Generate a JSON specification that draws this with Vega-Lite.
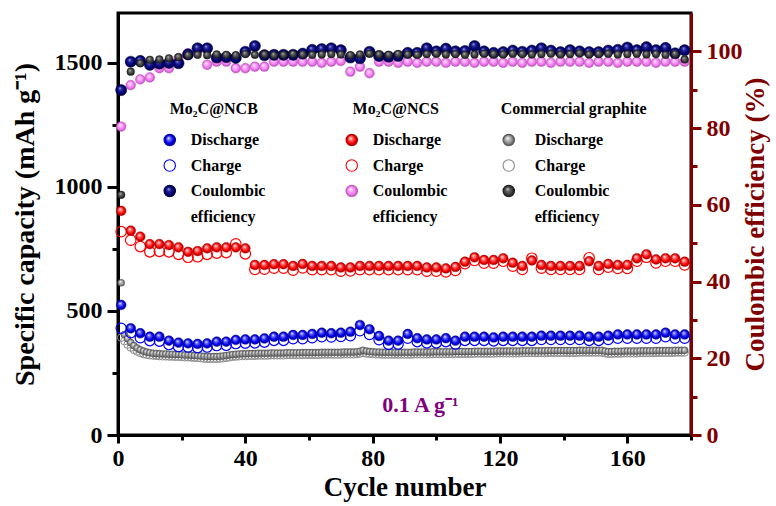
{
"$schema": "https://vega.github.io/schema/vega-lite/v6.json",
"width": 573, "height": 422,
"autosize": {"type": "none"},
"padding": {"left": 118, "top": 13, "right": 85, "bottom": 71},
"background": "white",
"config": {
  "font": "Liberation Serif",
  "view": {"stroke": "black", "strokeWidth": 3},
  "axis": {"labelFont": "Liberation Serif", "labelFontWeight": "bold", "labelFontSize": 24, "labelColor": "black",
           "titleFont": "Liberation Serif", "titleFontWeight": "bold", "titleFontSize": 28, "titleColor": "black",
           "domainColor": "black", "domainWidth": 3, "tickColor": "black", "tickWidth": 3, "grid": false},
  "legend": {"labelFont": "Liberation Serif", "labelFontWeight": "bold", "labelFontSize": 16, "labelColor": "black",
             "titleFont": "Liberation Serif", "titleFontWeight": "bold", "titleFontSize": 16, "titleColor": "black",
             "symbolType": "circle", "symbolSize": 130, "symbolStrokeWidth": 1.1, "rowPadding": 9.5, "titlePadding": 15, "padding": 0,
             "direction": "vertical", "labelLimit": 300, "titleLimit": 300}
},
"datasets": {
  "ncb_dis": [{"c":1,"v":524},{"c":4,"v":430},{"c":7,"v":410},{"c":10,"v":396},{"c":13,"v":396},{"c":16,"v":380},{"c":19,"v":372},{"c":22,"v":369},{"c":25,"v":367},{"c":28,"v":369},{"c":31,"v":376},{"c":34,"v":376},{"c":37,"v":383},{"c":40,"v":385},{"c":43,"v":385},{"c":46,"v":389},{"c":49,"v":396},{"c":52,"v":396},{"c":55,"v":403},{"c":58,"v":403},{"c":61,"v":407},{"c":64,"v":412},{"c":67,"v":410},{"c":70,"v":412},{"c":73,"v":416},{"c":76,"v":443},{"c":79,"v":426},{"c":82,"v":399},{"c":85,"v":380},{"c":88,"v":380},{"c":91,"v":407},{"c":94,"v":390},{"c":97,"v":385},{"c":100,"v":385},{"c":103,"v":390},{"c":106,"v":380},{"c":109,"v":396},{"c":112,"v":396},{"c":115,"v":396},{"c":118,"v":393},{"c":121,"v":396},{"c":124,"v":396},{"c":127,"v":396},{"c":130,"v":396},{"c":133,"v":400},{"c":136,"v":400},{"c":139,"v":400},{"c":142,"v":400},{"c":145,"v":400},{"c":148,"v":396},{"c":151,"v":396},{"c":154,"v":400},{"c":157,"v":405},{"c":160,"v":405},{"c":163,"v":405},{"c":166,"v":405},{"c":169,"v":405},{"c":172,"v":412},{"c":175,"v":405},{"c":178,"v":405}],
  "ncb_ch": [{"c":1,"v":430},{"c":4,"v":412},{"c":7,"v":392},{"c":10,"v":380},{"c":13,"v":378},{"c":16,"v":364},{"c":19,"v":356},{"c":22,"v":354},{"c":25,"v":352},{"c":28,"v":354},{"c":31,"v":360},{"c":34,"v":361},{"c":37,"v":368},{"c":40,"v":370},{"c":43,"v":371},{"c":46,"v":374},{"c":49,"v":381},{"c":52,"v":381},{"c":55,"v":388},{"c":58,"v":388},{"c":61,"v":392},{"c":64,"v":396},{"c":67,"v":395},{"c":70,"v":397},{"c":73,"v":400},{"c":76,"v":420},{"c":79,"v":405},{"c":82,"v":384},{"c":85,"v":365},{"c":88,"v":366},{"c":91,"v":390},{"c":94,"v":376},{"c":97,"v":371},{"c":100,"v":371},{"c":103,"v":376},{"c":106,"v":366},{"c":109,"v":381},{"c":112,"v":381},{"c":115,"v":381},{"c":118,"v":379},{"c":121,"v":381},{"c":124,"v":381},{"c":127,"v":381},{"c":130,"v":381},{"c":133,"v":385},{"c":136,"v":385},{"c":139,"v":385},{"c":142,"v":385},{"c":145,"v":385},{"c":148,"v":381},{"c":151,"v":381},{"c":154,"v":385},{"c":157,"v":390},{"c":160,"v":390},{"c":163,"v":390},{"c":166,"v":390},{"c":169,"v":390},{"c":172,"v":396},{"c":175,"v":390},{"c":178,"v":390}],
  "ncb_ce": [{"c":1,"v":89.9},{"c":4,"v":97.3},{"c":7,"v":97.5},{"c":10,"v":96.5},{"c":13,"v":96.8},{"c":16,"v":97.0},{"c":19,"v":96.9},{"c":22,"v":99.2},{"c":25,"v":100.8},{"c":28,"v":100.8},{"c":31,"v":98.4},{"c":34,"v":98.5},{"c":37,"v":98.3},{"c":40,"v":99.9},{"c":43,"v":101.4},{"c":46,"v":99.0},{"c":49,"v":99.1},{"c":52,"v":99.1},{"c":55,"v":99.1},{"c":58,"v":99.4},{"c":61,"v":100.4},{"c":64,"v":100.6},{"c":67,"v":100.8},{"c":70,"v":100.3},{"c":73,"v":98.4},{"c":76,"v":98.2},{"c":79,"v":99.9},{"c":82,"v":98.8},{"c":85,"v":98.6},{"c":88,"v":98.8},{"c":91,"v":99.6},{"c":94,"v":99.6},{"c":97,"v":100.8},{"c":100,"v":100.0},{"c":103,"v":100.7},{"c":106,"v":100.0},{"c":109,"v":100.1},{"c":112,"v":101.4},{"c":115,"v":100.0},{"c":118,"v":99.6},{"c":121,"v":99.8},{"c":124,"v":100.2},{"c":127,"v":99.9},{"c":130,"v":100.2},{"c":133,"v":100.8},{"c":136,"v":100.2},{"c":139,"v":99.8},{"c":142,"v":100.3},{"c":145,"v":100.0},{"c":148,"v":99.8},{"c":151,"v":99.8},{"c":154,"v":100.2},{"c":157,"v":100.4},{"c":160,"v":101.0},{"c":163,"v":100.3},{"c":166,"v":101.1},{"c":169,"v":100.3},{"c":172,"v":100.9},{"c":175,"v":99.5},{"c":178,"v":100.3}],
  "ncs_dis": [{"c":1,"v":903},{"c":4,"v":823},{"c":7,"v":799},{"c":10,"v":769},{"c":13,"v":769},{"c":16,"v":765},{"c":19,"v":756},{"c":22,"v":738},{"c":25,"v":741},{"c":28,"v":752},{"c":31,"v":756},{"c":34,"v":756},{"c":37,"v":756},{"c":40,"v":752},{"c":43,"v":685},{"c":46,"v":685},{"c":49,"v":688},{"c":52,"v":688},{"c":55,"v":681},{"c":58,"v":689},{"c":61,"v":681},{"c":64,"v":681},{"c":67,"v":681},{"c":70,"v":675},{"c":73,"v":675},{"c":76,"v":681},{"c":79,"v":681},{"c":82,"v":681},{"c":85,"v":681},{"c":88,"v":681},{"c":91,"v":681},{"c":94,"v":681},{"c":97,"v":675},{"c":100,"v":675},{"c":103,"v":671},{"c":106,"v":677},{"c":109,"v":698},{"c":112,"v":716},{"c":115,"v":705},{"c":118,"v":705},{"c":121,"v":712},{"c":124,"v":694},{"c":127,"v":681},{"c":130,"v":703},{"c":133,"v":685},{"c":136,"v":681},{"c":139,"v":681},{"c":142,"v":681},{"c":145,"v":681},{"c":148,"v":700},{"c":151,"v":681},{"c":154,"v":689},{"c":157,"v":685},{"c":160,"v":685},{"c":163,"v":712},{"c":166,"v":728},{"c":169,"v":707},{"c":172,"v":712},{"c":175,"v":712},{"c":178,"v":698}],
  "ncs_ch": [{"c":1,"v":819},{"c":4,"v":785},{"c":7,"v":759},{"c":10,"v":738},{"c":13,"v":740},{"c":16,"v":738},{"c":19,"v":728},{"c":22,"v":716},{"c":25,"v":718},{"c":28,"v":728},{"c":31,"v":733},{"c":34,"v":735},{"c":37,"v":770},{"c":40,"v":730},{"c":43,"v":667},{"c":46,"v":668},{"c":49,"v":672},{"c":52,"v":672},{"c":55,"v":664},{"c":58,"v":673},{"c":61,"v":666},{"c":64,"v":666},{"c":67,"v":666},{"c":70,"v":660},{"c":73,"v":661},{"c":76,"v":666},{"c":79,"v":666},{"c":82,"v":666},{"c":85,"v":666},{"c":88,"v":666},{"c":91,"v":666},{"c":94,"v":666},{"c":97,"v":660},{"c":100,"v":660},{"c":103,"v":657},{"c":106,"v":663},{"c":109,"v":690},{"c":112,"v":703},{"c":115,"v":692},{"c":118,"v":692},{"c":121,"v":700},{"c":124,"v":680},{"c":127,"v":667},{"c":130,"v":712},{"c":133,"v":672},{"c":136,"v":667},{"c":139,"v":667},{"c":142,"v":667},{"c":145,"v":667},{"c":148,"v":714},{"c":151,"v":667},{"c":154,"v":676},{"c":157,"v":671},{"c":160,"v":671},{"c":163,"v":700},{"c":166,"v":716},{"c":169,"v":693},{"c":172,"v":700},{"c":175,"v":700},{"c":178,"v":685}],
  "ncs_ce": [{"c":1,"v":80.4},{"c":4,"v":91.2},{"c":7,"v":92.7},{"c":10,"v":93.2},{"c":13,"v":95.6},{"c":16,"v":95.6},{"c":19,"v":98.2},{"c":22,"v":99.5},{"c":25,"v":100.0},{"c":28,"v":96.5},{"c":31,"v":97.3},{"c":34,"v":97.3},{"c":37,"v":95.6},{"c":40,"v":95.6},{"c":43,"v":96.0},{"c":46,"v":96.0},{"c":49,"v":97.3},{"c":52,"v":97.3},{"c":55,"v":97.3},{"c":58,"v":97.3},{"c":61,"v":97.3},{"c":64,"v":97.0},{"c":67,"v":97.3},{"c":70,"v":97.5},{"c":73,"v":94.7},{"c":76,"v":96.0},{"c":79,"v":94.3},{"c":82,"v":97.3},{"c":85,"v":97.3},{"c":88,"v":97.0},{"c":91,"v":97.3},{"c":94,"v":97.0},{"c":97,"v":97.3},{"c":100,"v":97.3},{"c":103,"v":97.0},{"c":106,"v":97.3},{"c":109,"v":97.3},{"c":112,"v":97.0},{"c":115,"v":97.3},{"c":118,"v":97.3},{"c":121,"v":97.0},{"c":124,"v":97.3},{"c":127,"v":97.0},{"c":130,"v":97.3},{"c":133,"v":97.3},{"c":136,"v":97.0},{"c":139,"v":97.3},{"c":142,"v":97.3},{"c":145,"v":97.3},{"c":148,"v":97.0},{"c":151,"v":97.3},{"c":154,"v":97.3},{"c":157,"v":97.0},{"c":160,"v":97.3},{"c":163,"v":97.3},{"c":166,"v":97.3},{"c":169,"v":97.0},{"c":172,"v":97.3},{"c":175,"v":97.3},{"c":178,"v":97.3}],
  "gr_ce": [{"c":1,"v":62.6},{"c":4,"v":94.7},{"c":7,"v":96.9},{"c":10,"v":97.8},{"c":13,"v":97.9},{"c":16,"v":98.2},{"c":19,"v":98.5},{"c":22,"v":99.0},{"c":25,"v":99.1},{"c":28,"v":99.0},{"c":31,"v":99.2},{"c":34,"v":99.1},{"c":37,"v":99.0},{"c":40,"v":99.3},{"c":43,"v":99.1},{"c":46,"v":99.2},{"c":49,"v":99.0},{"c":52,"v":99.1},{"c":55,"v":99.3},{"c":58,"v":99.2},{"c":61,"v":99.1},{"c":64,"v":99.2},{"c":67,"v":99.3},{"c":70,"v":99.2},{"c":73,"v":99.0},{"c":76,"v":99.2},{"c":79,"v":99.4},{"c":82,"v":99.2},{"c":85,"v":99.1},{"c":88,"v":99.3},{"c":91,"v":99.2},{"c":94,"v":99.1},{"c":97,"v":99.3},{"c":100,"v":99.4},{"c":103,"v":99.2},{"c":106,"v":99.3},{"c":109,"v":99.1},{"c":112,"v":99.2},{"c":115,"v":99.4},{"c":118,"v":99.3},{"c":121,"v":99.2},{"c":124,"v":99.4},{"c":127,"v":99.3},{"c":130,"v":99.2},{"c":133,"v":99.3},{"c":136,"v":99.4},{"c":139,"v":99.2},{"c":142,"v":99.3},{"c":145,"v":99.5},{"c":148,"v":99.2},{"c":151,"v":99.3},{"c":154,"v":99.4},{"c":157,"v":99.2},{"c":160,"v":99.3},{"c":163,"v":99.4},{"c":166,"v":99.2},{"c":169,"v":99.3},{"c":172,"v":99.1},{"c":175,"v":99.3},{"c":178,"v":97.9}],
  "gr_dis": [{"c":1,"v":613},{"c":2,"v":405},{"c":3,"v":388},{"c":4,"v":372},{"c":5,"v":360},{"c":6,"v":350},{"c":7,"v":343},{"c":8,"v":338},{"c":9,"v":334},{"c":10,"v":331},{"c":11,"v":329},{"c":12,"v":328},{"c":13,"v":327},{"c":14,"v":326},{"c":15,"v":326},{"c":16,"v":325},{"c":17,"v":325},{"c":18,"v":324},{"c":19,"v":324},{"c":20,"v":323},{"c":21,"v":322},{"c":22,"v":322},{"c":23,"v":321},{"c":24,"v":320},{"c":25,"v":319},{"c":26,"v":318},{"c":27,"v":317},{"c":28,"v":316},{"c":29,"v":316},{"c":30,"v":316},{"c":31,"v":316},{"c":32,"v":317},{"c":33,"v":318},{"c":34,"v":320},{"c":35,"v":322},{"c":36,"v":324},{"c":37,"v":325},{"c":38,"v":326},{"c":39,"v":327},{"c":40,"v":327},{"c":41,"v":328},{"c":42,"v":328},{"c":43,"v":328},{"c":44,"v":329},{"c":45,"v":329},{"c":46,"v":329},{"c":47,"v":329},{"c":48,"v":330},{"c":49,"v":330},{"c":50,"v":330},{"c":51,"v":330},{"c":52,"v":330},{"c":53,"v":331},{"c":54,"v":331},{"c":55,"v":331},{"c":56,"v":331},{"c":57,"v":331},{"c":58,"v":332},{"c":59,"v":332},{"c":60,"v":332},{"c":61,"v":332},{"c":62,"v":332},{"c":63,"v":332},{"c":64,"v":333},{"c":65,"v":333},{"c":66,"v":333},{"c":67,"v":333},{"c":68,"v":333},{"c":69,"v":333},{"c":70,"v":333},{"c":71,"v":334},{"c":72,"v":334},{"c":73,"v":334},{"c":74,"v":334},{"c":75,"v":335},{"c":76,"v":337},{"c":77,"v":341},{"c":78,"v":338},{"c":79,"v":336},{"c":80,"v":335},{"c":81,"v":334},{"c":82,"v":334},{"c":83,"v":333},{"c":84,"v":333},{"c":85,"v":333},{"c":86,"v":333},{"c":87,"v":333},{"c":88,"v":333},{"c":89,"v":333},{"c":90,"v":333},{"c":91,"v":333},{"c":92,"v":333},{"c":93,"v":334},{"c":94,"v":334},{"c":95,"v":334},{"c":96,"v":334},{"c":97,"v":334},{"c":98,"v":334},{"c":99,"v":335},{"c":100,"v":335},{"c":101,"v":335},{"c":102,"v":335},{"c":103,"v":335},{"c":104,"v":335},{"c":105,"v":335},{"c":106,"v":336},{"c":107,"v":336},{"c":108,"v":336},{"c":109,"v":336},{"c":110,"v":336},{"c":111,"v":336},{"c":112,"v":337},{"c":113,"v":337},{"c":114,"v":337},{"c":115,"v":337},{"c":116,"v":337},{"c":117,"v":337},{"c":118,"v":337},{"c":119,"v":338},{"c":120,"v":338},{"c":121,"v":338},{"c":122,"v":338},{"c":123,"v":338},{"c":124,"v":338},{"c":125,"v":338},{"c":126,"v":338},{"c":127,"v":339},{"c":128,"v":339},{"c":129,"v":339},{"c":130,"v":339},{"c":131,"v":339},{"c":132,"v":339},{"c":133,"v":339},{"c":134,"v":339},{"c":135,"v":340},{"c":136,"v":340},{"c":137,"v":340},{"c":138,"v":340},{"c":139,"v":340},{"c":140,"v":340},{"c":141,"v":340},{"c":142,"v":340},{"c":143,"v":340},{"c":144,"v":340},{"c":145,"v":341},{"c":146,"v":341},{"c":147,"v":341},{"c":148,"v":341},{"c":149,"v":341},{"c":150,"v":341},{"c":151,"v":341},{"c":152,"v":341},{"c":153,"v":338},{"c":154,"v":336},{"c":155,"v":336},{"c":156,"v":337},{"c":157,"v":337},{"c":158,"v":337},{"c":159,"v":338},{"c":160,"v":338},{"c":161,"v":338},{"c":162,"v":338},{"c":163,"v":338},{"c":164,"v":339},{"c":165,"v":339},{"c":166,"v":339},{"c":167,"v":339},{"c":168,"v":339},{"c":169,"v":340},{"c":170,"v":340},{"c":171,"v":340},{"c":172,"v":340},{"c":173,"v":340},{"c":174,"v":340},{"c":175,"v":341},{"c":176,"v":341},{"c":177,"v":341},{"c":178,"v":341}],
  "gr_ch": [{"c":1,"v":392},{"c":2,"v":378},{"c":3,"v":364},{"c":4,"v":352},{"c":5,"v":343},{"c":6,"v":336},{"c":7,"v":330},{"c":8,"v":326},{"c":9,"v":323},{"c":10,"v":321},{"c":11,"v":320},{"c":12,"v":319},{"c":13,"v":318},{"c":14,"v":317},{"c":15,"v":317},{"c":16,"v":316},{"c":17,"v":316},{"c":18,"v":315},{"c":19,"v":315},{"c":20,"v":314},{"c":21,"v":313},{"c":22,"v":313},{"c":23,"v":312},{"c":24,"v":311},{"c":25,"v":310},{"c":26,"v":309},{"c":27,"v":308},{"c":28,"v":307},{"c":29,"v":307},{"c":30,"v":307},{"c":31,"v":307},{"c":32,"v":308},{"c":33,"v":309},{"c":34,"v":311},{"c":35,"v":313},{"c":36,"v":315},{"c":37,"v":316},{"c":38,"v":317},{"c":39,"v":318},{"c":40,"v":318},{"c":41,"v":319},{"c":42,"v":319},{"c":43,"v":319},{"c":44,"v":320},{"c":45,"v":320},{"c":46,"v":320},{"c":47,"v":320},{"c":48,"v":321},{"c":49,"v":321},{"c":50,"v":321},{"c":51,"v":321},{"c":52,"v":321},{"c":53,"v":322},{"c":54,"v":322},{"c":55,"v":322},{"c":56,"v":322},{"c":57,"v":322},{"c":58,"v":323},{"c":59,"v":323},{"c":60,"v":323},{"c":61,"v":323},{"c":62,"v":323},{"c":63,"v":323},{"c":64,"v":324},{"c":65,"v":324},{"c":66,"v":324},{"c":67,"v":324},{"c":68,"v":324},{"c":69,"v":324},{"c":70,"v":324},{"c":71,"v":325},{"c":72,"v":325},{"c":73,"v":325},{"c":74,"v":325},{"c":75,"v":326},{"c":76,"v":328},{"c":77,"v":330},{"c":78,"v":328},{"c":79,"v":327},{"c":80,"v":326},{"c":81,"v":325},{"c":82,"v":325},{"c":83,"v":324},{"c":84,"v":324},{"c":85,"v":324},{"c":86,"v":324},{"c":87,"v":324},{"c":88,"v":324},{"c":89,"v":324},{"c":90,"v":324},{"c":91,"v":324},{"c":92,"v":324},{"c":93,"v":325},{"c":94,"v":325},{"c":95,"v":325},{"c":96,"v":325},{"c":97,"v":325},{"c":98,"v":325},{"c":99,"v":326},{"c":100,"v":326},{"c":101,"v":326},{"c":102,"v":326},{"c":103,"v":326},{"c":104,"v":326},{"c":105,"v":326},{"c":106,"v":327},{"c":107,"v":327},{"c":108,"v":327},{"c":109,"v":327},{"c":110,"v":327},{"c":111,"v":327},{"c":112,"v":328},{"c":113,"v":328},{"c":114,"v":328},{"c":115,"v":328},{"c":116,"v":328},{"c":117,"v":328},{"c":118,"v":328},{"c":119,"v":329},{"c":120,"v":329},{"c":121,"v":329},{"c":122,"v":329},{"c":123,"v":329},{"c":124,"v":329},{"c":125,"v":329},{"c":126,"v":329},{"c":127,"v":330},{"c":128,"v":330},{"c":129,"v":330},{"c":130,"v":330},{"c":131,"v":330},{"c":132,"v":330},{"c":133,"v":330},{"c":134,"v":330},{"c":135,"v":331},{"c":136,"v":331},{"c":137,"v":331},{"c":138,"v":331},{"c":139,"v":331},{"c":140,"v":331},{"c":141,"v":331},{"c":142,"v":331},{"c":143,"v":331},{"c":144,"v":331},{"c":145,"v":332},{"c":146,"v":332},{"c":147,"v":332},{"c":148,"v":332},{"c":149,"v":332},{"c":150,"v":332},{"c":151,"v":332},{"c":152,"v":332},{"c":153,"v":329},{"c":154,"v":327},{"c":155,"v":327},{"c":156,"v":328},{"c":157,"v":328},{"c":158,"v":328},{"c":159,"v":329},{"c":160,"v":329},{"c":161,"v":329},{"c":162,"v":329},{"c":163,"v":329},{"c":164,"v":330},{"c":165,"v":330},{"c":166,"v":330},{"c":167,"v":330},{"c":168,"v":330},{"c":169,"v":331},{"c":170,"v":331},{"c":171,"v":331},{"c":172,"v":331},{"c":173,"v":331},{"c":174,"v":331},{"c":175,"v":332},{"c":176,"v":332},{"c":177,"v":332},{"c":178,"v":332}]
},
"layer": [
  {
    "layer": [
      {
        "data": {"name": "ncs_ch"},
        "mark": {"type": "point", "shape": "circle", "size": 110, "opacity": 1, "strokeWidth": 1.2},
        "encoding": {
          "x": {"field": "c", "type": "quantitative", "scale": {"domain": [0, 180], "nice": false, "zero": false},
                "axis": {"orient": "bottom", "values": [0, 40, 80, 120, 160], "format": "d", "title": "Cycle number", "titleFontSize": 27, "tickSize": 8, "labelPadding": 3, "titlePadding": 4, "labelOverlap": false, "labelFlush": false}},
          "y": {"field": "v", "type": "quantitative", "scale": {"domain": [0, 1700], "nice": false},
                "axis": {"orient": "left", "values": [0, 500, 1000, 1500], "format": "d",
                         "title": "Specific capacity (mAh g⁻¹)", "tickSize": 11, "labelPadding": 5, "titlePadding": 15, "labelOverlap": false}},
          "fill": {"datum": "Charge",
                   "scale": {"domain": ["Discharge", "Charge", "Coulombic", "efficiency"],
                             "range": [
                               {"signal": "{gradient:'radial',x1:0.38,y1:0.32,r1:0,x2:0.5,y2:0.5,r2:0.5,stops:[{offset:0,color:'#ffffff'},{offset:0.3,color:'#ff7a7a'},{offset:0.7,color:'#ff0000'},{offset:1,color:'#a00000'}]}"},
                               "transparent",
                               {"signal": "{gradient:'radial',x1:0.38,y1:0.32,r1:0,x2:0.5,y2:0.5,r2:0.5,stops:[{offset:0,color:'#ffffff'},{offset:0.3,color:'#ffb4ff'},{offset:0.7,color:'#f07af0'},{offset:1,color:'#b850b8'}]}"},
                               "transparent"]},
                   "legend": {"orient": "none", "legendX": 225.75, "legendY": 88, "title": "Mo₂C@NCS", "labelOffset": 13, "titleAnchor": "middle"}},
          "stroke": {"datum": "Charge",
                     "scale": {"domain": ["Discharge", "Charge", "Coulombic", "efficiency"],
                               "range": ["#b00000", "#ff0000", "#c060c0", "transparent"]}}
        }
      },
      {
        "data": {"name": "ncs_dis"},
        "mark": {"type": "point", "shape": "circle", "size": 95, "opacity": 1, "strokeWidth": 0.5},
        "encoding": {
          "x": {"field": "c", "type": "quantitative", "scale": {"domain": [0, 180], "nice": false, "zero": false},
                "axis": {"orient": "bottom", "values": [0, 40, 80, 120, 160], "format": "d", "title": "Cycle number", "titleFontSize": 27, "tickSize": 8, "labelPadding": 3, "titlePadding": 4, "labelOverlap": false, "labelFlush": false}},
          "y": {"field": "v", "type": "quantitative", "scale": {"domain": [0, 1700], "nice": false},
                "axis": {"orient": "left", "values": [250, 750, 1250], "labels": false, "title": null, "domain": false, "tickSize": 6}},
          "fill": {"datum": "Discharge", "scale": {"domain": ["Discharge", "Charge", "Coulombic", "efficiency"]}},
          "stroke": {"datum": "Discharge", "scale": {"domain": ["Discharge", "Charge", "Coulombic", "efficiency"]}}
        }
      },
      {
        "data": {"name": "ncs_ce"},
        "mark": {"type": "point", "shape": "circle", "size": 95, "opacity": 1, "strokeWidth": 0.5},
        "encoding": {
          "x": {"field": "c", "type": "quantitative", "scale": {"domain": [0, 180], "nice": false, "zero": false},
                "axis": {"orient": "bottom", "values": [0, 40, 80, 120, 160], "format": "d", "title": "Cycle number", "titleFontSize": 27, "tickSize": 8, "labelPadding": 3, "titlePadding": 4, "labelOverlap": false, "labelFlush": false}},
          "y": {"field": "v", "type": "quantitative", "scale": {"domain": [0, 110], "nice": false},
                "axis": {"orient": "right", "values": [0, 20, 40, 60, 80, 100], "format": "d",
                         "title": "Coulombic efficiency (%)", "titleAngle": 270, "titleBaseline": "top", "titleFontSize": 27,
                         "domainColor": "#800000", "tickColor": "#800000", "labelColor": "#800000", "titleColor": "#800000",
                         "tickSize": 10, "labelPadding": 5, "titlePadding": 0, "labelOverlap": false}},
          "fill": {"datum": "Coulombic", "scale": {"domain": ["Discharge", "Charge", "Coulombic", "efficiency"]}},
          "stroke": {"datum": "Coulombic", "scale": {"domain": ["Discharge", "Charge", "Coulombic", "efficiency"]}}
        }
      }
    ],
    "resolve": {"scale": {"y": "independent"}}
  },
  {
    "layer": [
      {
        "data": {"name": "gr_ch"},
        "mark": {"type": "point", "shape": "circle", "size": 56, "opacity": 1, "strokeWidth": 1},
        "encoding": {
          "x": {"field": "c", "type": "quantitative", "scale": {"domain": [0, 180], "nice": false, "zero": false}, "axis": null},
          "y": {"field": "v", "type": "quantitative", "scale": {"domain": [0, 1700], "nice": false}, "axis": null},
          "fill": {"datum": "Charge",
                   "scale": {"domain": ["Discharge", "Charge", "Coulombic", "efficiency"],
                             "range": [
                               {"signal": "{gradient:'radial',x1:0.38,y1:0.32,r1:0,x2:0.5,y2:0.5,r2:0.5,stops:[{offset:0,color:'#ffffff'},{offset:0.3,color:'#c4c4c4'},{offset:0.7,color:'#8c8c8c'},{offset:1,color:'#4a4a4a'}]}"},
                               "transparent",
                               {"signal": "{gradient:'radial',x1:0.38,y1:0.32,r1:0,x2:0.5,y2:0.5,r2:0.5,stops:[{offset:0,color:'#d8d8d8'},{offset:0.3,color:'#6a6a6a'},{offset:0.7,color:'#3c3c3c'},{offset:1,color:'#1a1a1a'}]}"},
                               "transparent"]},
                   "legend": {"orient": "none", "legendX": 382.75, "legendY": 88, "title": "Commercial graphite", "labelOffset": 18}},
          "stroke": {"datum": "Charge",
                     "scale": {"domain": ["Discharge", "Charge", "Coulombic", "efficiency"],
                               "range": ["#555555", "#8a8a8a", "#1a1a1a", "transparent"]}}
        }
      },
      {
        "data": {"name": "gr_dis"},
        "mark": {"type": "point", "shape": "circle", "size": 50, "opacity": 1, "strokeWidth": 0.4},
        "encoding": {
          "x": {"field": "c", "type": "quantitative", "scale": {"domain": [0, 180], "nice": false, "zero": false}, "axis": null},
          "y": {"field": "v", "type": "quantitative", "scale": {"domain": [0, 1700], "nice": false}, "axis": null},
          "fill": {"datum": "Discharge", "scale": {"domain": ["Discharge", "Charge", "Coulombic", "efficiency"]}},
          "stroke": {"datum": "Discharge", "scale": {"domain": ["Discharge", "Charge", "Coulombic", "efficiency"]}}
        }
      }
    ],
    "resolve": {"scale": {"y": "independent"}}
  },
  {
    "layer": [
      {
        "data": {"name": "ncb_ch"},
        "mark": {"type": "point", "shape": "circle", "size": 105, "opacity": 1, "strokeWidth": 1.2},
        "encoding": {
          "x": {"field": "c", "type": "quantitative", "scale": {"domain": [0, 180], "nice": false, "zero": false}, "axis": null},
          "y": {"field": "v", "type": "quantitative", "scale": {"domain": [0, 1700], "nice": false}, "axis": null},
          "fill": {"datum": "Charge",
                   "scale": {"domain": ["Discharge", "Charge", "Coulombic", "efficiency"],
                             "range": [
                               {"signal": "{gradient:'radial',x1:0.38,y1:0.32,r1:0,x2:0.5,y2:0.5,r2:0.5,stops:[{offset:0,color:'#ffffff'},{offset:0.3,color:'#6a6aff'},{offset:0.7,color:'#0000ee'},{offset:1,color:'#00008a'}]}"},
                               "transparent",
                               {"signal": "{gradient:'radial',x1:0.38,y1:0.32,r1:0,x2:0.5,y2:0.5,r2:0.5,stops:[{offset:0,color:'#b0b0e8'},{offset:0.3,color:'#2a2a9a'},{offset:0.7,color:'#000078'},{offset:1,color:'#000038'}]}"},
                               "transparent"]},
                   "legend": {"orient": "none", "legendX": 43.75, "legendY": 88, "title": "Mo₂C@NCB", "labelOffset": 13, "titleAnchor": "middle"}},
          "stroke": {"datum": "Charge",
                     "scale": {"domain": ["Discharge", "Charge", "Coulombic", "efficiency"],
                               "range": ["#0000a0", "#0000ff", "#000040", "transparent"]}}
        }
      },
      {
        "data": {"name": "ncb_dis"},
        "mark": {"type": "point", "shape": "circle", "size": 95, "opacity": 1, "strokeWidth": 0.5},
        "encoding": {
          "x": {"field": "c", "type": "quantitative", "scale": {"domain": [0, 180], "nice": false, "zero": false}, "axis": null},
          "y": {"field": "v", "type": "quantitative", "scale": {"domain": [0, 1700], "nice": false}, "axis": null},
          "fill": {"datum": "Discharge", "scale": {"domain": ["Discharge", "Charge", "Coulombic", "efficiency"]}},
          "stroke": {"datum": "Discharge", "scale": {"domain": ["Discharge", "Charge", "Coulombic", "efficiency"]}}
        }
      },
      {
        "data": {"name": "ncb_ce"},
        "mark": {"type": "point", "shape": "circle", "size": 125, "opacity": 1, "strokeWidth": 0.5},
        "encoding": {
          "x": {"field": "c", "type": "quantitative", "scale": {"domain": [0, 180], "nice": false, "zero": false}, "axis": null},
          "y": {"field": "v", "type": "quantitative", "scale": {"domain": [0, 110], "nice": false}, "axis": null},
          "fill": {"datum": "Coulombic", "scale": {"domain": ["Discharge", "Charge", "Coulombic", "efficiency"]}},
          "stroke": {"datum": "Coulombic", "scale": {"domain": ["Discharge", "Charge", "Coulombic", "efficiency"]}}
        }
      }
    ],
    "resolve": {"scale": {"y": "independent"}}
  },
  {
    "data": {"name": "gr_ce"},
    "mark": {"type": "point", "shape": "circle", "size": 60, "opacity": 1, "stroke": "#1a1a1a", "strokeWidth": 0.4,
             "fill": {"gradient": "radial", "x1": 0.38, "y1": 0.32, "r1": 0, "x2": 0.5, "y2": 0.5, "r2": 0.5,
                      "stops": [{"offset": 0, "color": "#d8d8d8"}, {"offset": 0.3, "color": "#6a6a6a"}, {"offset": 0.7, "color": "#3c3c3c"}, {"offset": 1, "color": "#1a1a1a"}]}},
    "encoding": {
      "x": {"field": "c", "type": "quantitative", "scale": {"domain": [0, 180], "nice": false, "zero": false},
            "axis": {"orient": "bottom", "values": [20, 60, 100, 140, 180], "labels": false, "title": null, "domain": false, "tickSize": 5}},
      "y": {"field": "v", "type": "quantitative", "scale": {"domain": [0, 110], "nice": false},
            "axis": {"orient": "right", "values": [10, 30, 50, 70, 90], "labels": false, "title": null, "domain": false, "tickSize": 6, "tickColor": "#800000"}}
    }
  },
  {
    "data": {"values": [{}]},
    "mark": {"type": "text", "text": "0.1 A g⁻¹", "font": "Liberation Serif", "fontWeight": "bold", "fontSize": 22, "color": "#800080", "align": "center", "baseline": "middle"},
    "encoding": {
      "x": {"datum": 95, "type": "quantitative", "scale": {"domain": [0, 180], "nice": false, "zero": false}, "axis": null},
      "y": {"datum": 121, "type": "quantitative", "scale": {"domain": [0, 1700], "nice": false}, "axis": null}
    }
  }
],
"resolve": {"scale": {"x": "independent", "y": "independent", "fill": "independent", "stroke": "independent"}}
}
